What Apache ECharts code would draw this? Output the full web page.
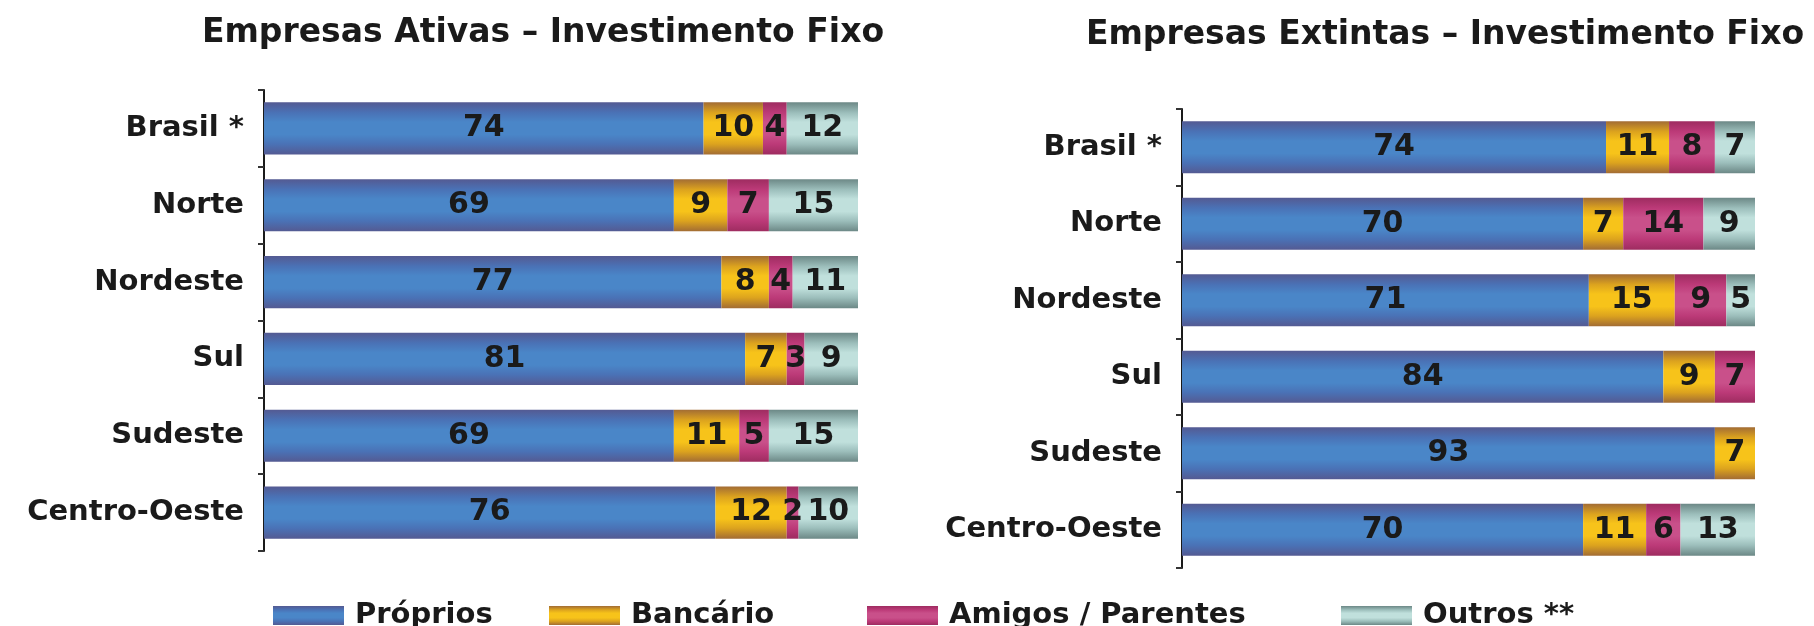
<!DOCTYPE html>
<html>
<head>
<meta charset="utf-8">
<script src="https://cdn.jsdelivr.net/npm/echarts@6/dist/echarts.min.js"></script>
<style>
  html, body { margin: 0; padding: 0; background: #ffffff; }
  #main { width: 1814px; height: 626px; }
</style>
</head>
<body>
<div id="main"></div>
<script>
// categorias (de cima para baixo)
var regioes = ['Brasil *', 'Norte', 'Nordeste', 'Sul', 'Sudeste', 'Centro-Oeste'];
var fontes = ['Próprios', 'Bancário', 'Amigos / Parentes', 'Outros **'];

// Empresas Ativas - Investimento Fixo (%)
var ativasProprios = [74, 69, 77, 81, 69, 76];
var ativasBancario = [10, 9, 8, 7, 11, 12];
var ativasAmigos   = [4, 7, 4, 3, 5, 2];
var ativasOutros   = [12, 15, 11, 9, 15, 10];

// Empresas Extintas - Investimento Fixo (%)
var extintasProprios = [74, 70, 71, 84, 93, 70];
var extintasBancario = [11, 7, 15, 9, 7, 11];
var extintasAmigos   = [8, 14, 9, 7, 0, 6];
var extintasOutros   = [7, 9, 5, 0, 0, 13];

var FONT = 'DejaVu Sans';

// gradiente vertical tipo "tubo"
function tubo(escuro, medio, claro) {
    return new echarts.graphic.LinearGradient(0, 0, 0, 1, [
        {offset: 0, color: escuro},
        {offset: 0.2, color: medio},
        {offset: 0.38, color: claro},
        {offset: 0.62, color: claro},
        {offset: 0.8, color: medio},
        {offset: 1, color: escuro}
    ]);
}
var cores = [
    tubo('#545a92', '#4a72b6', '#4a86c8'),
    tubo('#a26c34', '#dca31e', '#f7c31a'),
    tubo('#9e2c60', '#bc3a78', '#c9508a'),
    tubo('#6c8886', '#9cbebb', '#c0e0dc')
];

var rotulo = {
    show: true,
    position: 'inside',
    color: '#1a1a1a',
    fontFamily: FONT,
    fontWeight: 'bold',
    fontSize: 30,
    formatter: function (p) { return p.value ? p.value : ''; }
};

function serie(nome, dados, idx, eixo) {
    return {
        name: nome,
        type: 'bar',
        stack: 'g' + eixo,
        xAxisIndex: eixo,
        yAxisIndex: eixo,
        barCategoryGap: '32%',
        data: dados,
        itemStyle: { color: cores[idx] },
        label: rotulo
    };
}

function eixoY(idx) {
    return {
        type: 'category',
        gridIndex: idx,
        inverse: true,
        data: regioes,
        axisLine: { lineStyle: { color: '#1a1a1a', width: 2 } },
        axisTick: { show: true, length: 6, lineStyle: { color: '#333', width: 2 } },
        axisLabel: {
            margin: 20,
            color: '#1a1a1a',
            fontFamily: FONT,
            fontWeight: 'bold',
            fontSize: 29
        }
    };
}

function eixoX(idx) {
    return { type: 'value', gridIndex: idx, min: 0, max: 100, show: false };
}

function legenda(nome, x) {
    return {
        data: [nome],
        left: x,
        top: 596,
        itemWidth: 71,
        itemHeight: 19,
        icon: 'rect',
        selectedMode: false,
        textStyle: {
            color: '#1a1a1a',
            fontFamily: FONT,
            fontWeight: 'bold',
            fontSize: 29,
            padding: [0, 0, 0, 6]
        }
    };
}

var myChart = echarts.init(document.getElementById('main'));

var option = {
    backgroundColor: '#ffffff',
    animation: false,
    title: [
        {
            text: 'Empresas Ativas – Investimento Fixo',
            left: 538, top: 12, textAlign: 'center',
            textStyle: { fontFamily: FONT, fontWeight: 'bold', fontSize: 33, color: '#1a1a1a' }
        },
        {
            text: 'Empresas Extintas – Investimento Fixo',
            left: 1440, top: 14, textAlign: 'center',
            textStyle: { fontFamily: FONT, fontWeight: 'bold', fontSize: 33, color: '#1a1a1a' }
        }
    ],
    legend: [
        legenda(fontes[0], 268),
        legenda(fontes[1], 544),
        legenda(fontes[2], 862),
        legenda(fontes[3], 1336)
    ],
    grid: [
        { left: 264, top: 90, width: 594, height: 461 },
        { left: 1182, top: 109, width: 573, height: 459 }
    ],
    xAxis: [eixoX(0), eixoX(1)],
    yAxis: [eixoY(0), eixoY(1)],
    series: [
        serie(fontes[0], ativasProprios, 0, 0),
        serie(fontes[1], ativasBancario, 1, 0),
        serie(fontes[2], ativasAmigos, 2, 0),
        serie(fontes[3], ativasOutros, 3, 0),
        serie(fontes[0], extintasProprios, 0, 1),
        serie(fontes[1], extintasBancario, 1, 1),
        serie(fontes[2], extintasAmigos, 2, 1),
        serie(fontes[3], extintasOutros, 3, 1)
    ]
};

myChart.setOption(option);
</script>
</body>
</html>
